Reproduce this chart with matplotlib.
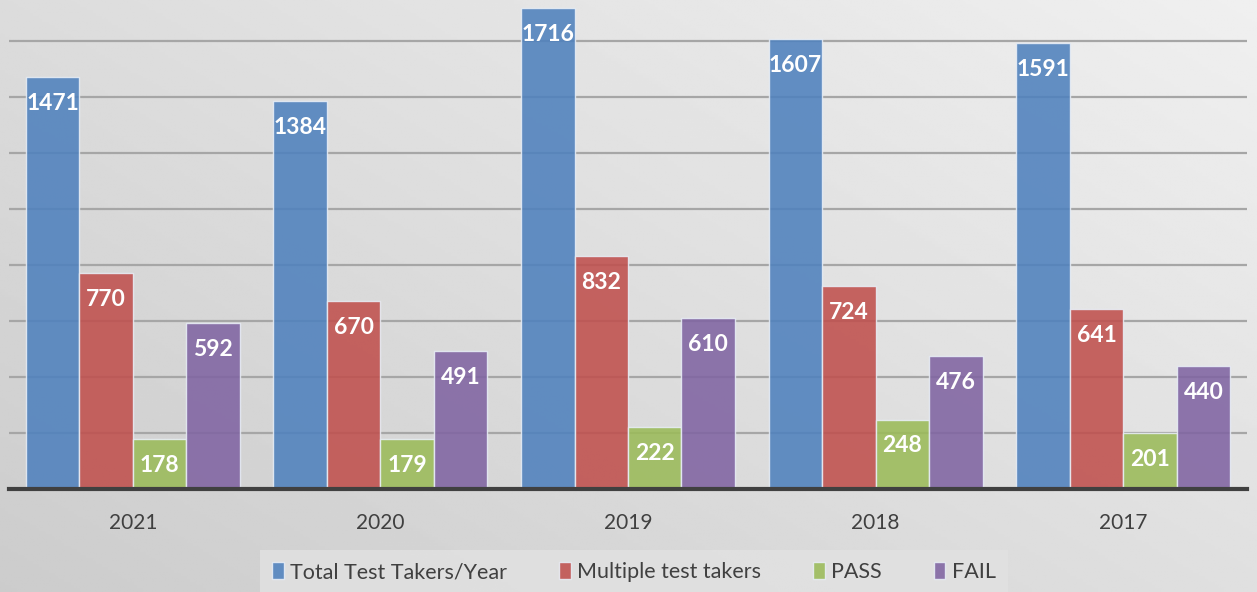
import numpy as np
import matplotlib.pyplot as plt

years = ['2021', '2020', '2019', '2018', '2017']
total = [1471, 1384, 1716, 1607, 1591]
multiple = [770, 670, 832, 724, 641]
passed = [178, 179, 222, 248, 201]
failed = [592, 491, 610, 476, 440]

series = [('Total Test Takers/Year', total, '#4f81bd'),
          ('Multiple test takers', multiple, '#c0504d'),
          ('PASS', passed, '#9bbb59'),
          ('FAIL', failed, '#8064a2')]

plt.rcParams['font.family'] = ['Lato', 'DejaVu Sans']

fig = plt.figure(figsize=(12.57, 5.92), dpi=100)

# gradient background
bg = fig.add_axes([0, 0, 1, 1], zorder=-10)
yy, xx = np.mgrid[0:1:200j, 0:1:400j]
grad = 0.80 + 0.14 * (0.55 * xx + 0.45 * yy)
bg.imshow(grad, cmap='gray', vmin=0, vmax=1, origin='lower', aspect='auto', extent=[0, 1, 0, 1])
bg.axis('off')

ax = fig.add_axes([9 / 1257, 1 - 489 / 592, 1238 / 1257, 489 / 592])
ax.patch.set_alpha(0)

x = np.arange(len(years))
w = 0.216
for i, (name, vals, col) in enumerate(series):
    bars = ax.bar(x + (i - 1.5) * w, vals, w, color=col, alpha=0.88,
                  edgecolor='#e8eef6', linewidth=1.0, label=name, zorder=3)
    for b, v in zip(bars, vals):
        ax.annotate(str(v), (b.get_x() + b.get_width() / 2, v), xytext=(0, -19),
                    textcoords='offset points', ha='center', va='center',
                    color='white', fontsize=16.5, fontweight='bold', zorder=5)

ax.set_xlim(-0.5, len(years) - 0.5)
ax.set_ylim(0, 1746)
ax.set_yticks(np.arange(200, 1601, 200))
ax.yaxis.grid(True, color='#a6a6a6', linewidth=1.6, zorder=1)
ax.set_axisbelow(True)
ax.tick_params(axis='y', left=False, labelleft=False)
ax.tick_params(axis='x', length=0, pad=17, labelsize=15, labelcolor='#404040')
ax.set_xticks(x)
ax.set_xticklabels(years)
for s in ['top', 'right', 'left']:
    ax.spines[s].set_visible(False)
ax.spines['bottom'].set_color('#404040')
ax.spines['bottom'].set_linewidth(3)
ax.spines['bottom'].set_zorder(6)

leg = fig.legend(loc='center', bbox_to_anchor=(634 / 1257, 1 - 572 / 592), ncol=4,
                 frameon=True, fontsize=15.5, handlelength=0.55, handleheight=0.85,
                 handletextpad=0.3, columnspacing=2.4, borderpad=0.55, borderaxespad=0,
                 fancybox=False)
leg.get_frame().set_facecolor('#e2e2e2')
leg.get_frame().set_edgecolor('none')
for t in leg.get_texts():
    t.set_color('#404040')

fig.savefig('out.png', dpi=100)
